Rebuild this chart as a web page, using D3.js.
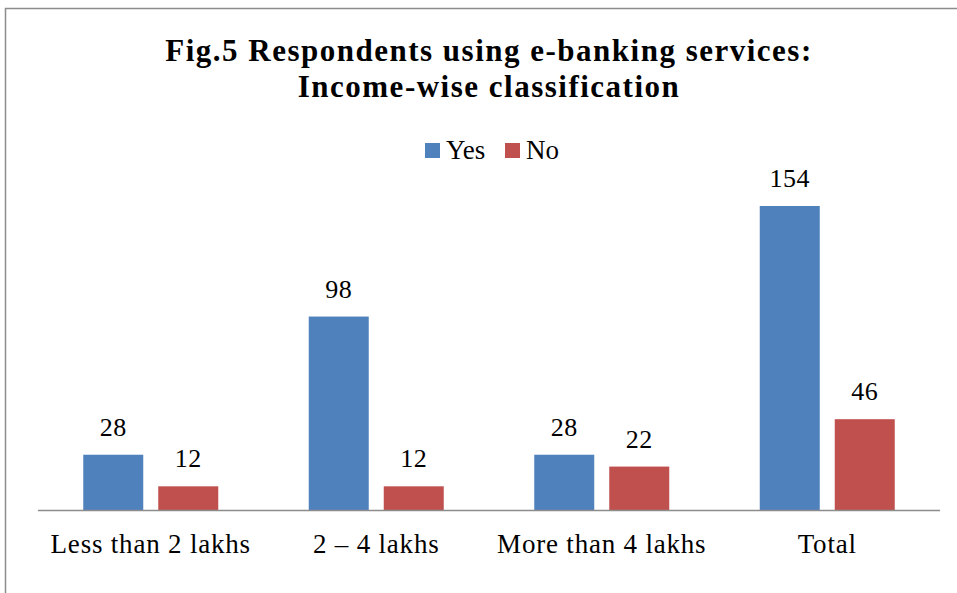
<!DOCTYPE html>
<head>
  <meta charset="utf-8">
  <script src="https://d3js.org/d3.v7.min.js"></script>
  <style>
body { margin: 0; background: #fff; }
text { font-family: "Liberation Serif", "DejaVu Serif", serif; fill: #000; }
.title { font-weight: 700; font-size: 31px; letter-spacing: 1.5px; }
.cat { font-size: 27px; letter-spacing: 0.8px; }
.val { font-size: 26px; letter-spacing: 0.5px; }
.leg { font-size: 27px; }
  </style>
</head>
<body>
  <script>
    var categories = ["Less than 2 lakhs", "2 \u2013 4 lakhs", "More than 4 lakhs", "Total"];
    var seriesNames = ["Yes", "No"];
    var yesValues = [28, 98, 28, 154];
    var noValues = [12, 12, 22, 46];
    var titleLines = ["Fig.5 Respondents using e-banking services:", "Income-wise classification"];

    var width = 957, height = 593;
    var color = d3.scaleOrdinal().domain(seriesNames).range(["#4F81BD", "#C0504D"]);

    var svg = d3.select("body").append("svg")
      .attr("width", width)
      .attr("height", height);

    // outer frame (cropped at right/bottom like the reference)
    svg.append("path")
      .attr("d", "M5.5," + height + "V8.5H" + width)
      .attr("fill", "none")
      .attr("stroke", "#8c8c8c")
      .attr("stroke-width", 1.5);

    var x0 = d3.scaleBand().domain(categories).range([38, 940]);
    var x1 = d3.scaleBand().domain(seriesNames).range([0, 135]).paddingInner(0.2);
    var y = d3.scaleLinear().domain([0, 154]).range([510, 206]);

    var data = categories.map(function(c, i) {
      return {cat: c, vals: [{s: "Yes", v: yesValues[i]}, {s: "No", v: noValues[i]}]};
    });

    var groups = svg.selectAll(".grp")
      .data(data)
      .enter().append("g")
      .attr("class", "grp")
      .attr("transform", function(d) {
        return "translate(" + (x0(d.cat) + (x0.bandwidth() - 135) / 2) + ",0)";
      });

    groups.selectAll("rect")
      .data(function(d) { return d.vals; })
      .enter().append("rect")
      .attr("x", function(d) { return x1(d.s); })
      .attr("width", x1.bandwidth())
      .attr("y", function(d) { return y(d.v); })
      .attr("height", function(d) { return y(0) - y(d.v); })
      .attr("fill", function(d) { return color(d.s); });

    groups.selectAll(".val")
      .data(function(d) { return d.vals; })
      .enter().append("text")
      .attr("class", "val")
      .attr("x", function(d) { return x1(d.s) + x1.bandwidth() / 2; })
      .attr("y", function(d) { return y(d.v) - 19; })
      .attr("text-anchor", "middle")
      .text(function(d) { return d.v; });

    // axis line
    svg.append("line")
      .attr("x1", 38).attr("x2", 940)
      .attr("y1", y(0) + 0.5).attr("y2", y(0) + 0.5)
      .attr("stroke", "#8c8c8c")
      .attr("stroke-width", 1.5);

    svg.selectAll(".cat")
      .data(categories)
      .enter().append("text")
      .attr("class", "cat")
      .attr("x", function(d) { return x0(d) + x0.bandwidth() / 2; })
      .attr("y", 553)
      .attr("text-anchor", "middle")
      .text(function(d) { return d; });

    svg.selectAll(".title")
      .data(titleLines)
      .enter().append("text")
      .attr("class", "title")
      .attr("x", 489)
      .attr("y", function(d, i) { return 61 + i * 36; })
      .attr("text-anchor", "middle")
      .text(function(d) { return d; });

    // legend
    var legend = svg.append("g");
    var lx = [425, 505];
    seriesNames.forEach(function(s, i) {
      legend.append("rect")
        .attr("x", lx[i]).attr("y", 143)
        .attr("width", 15).attr("height", 15)
        .attr("fill", color(s));
      legend.append("text")
        .attr("class", "leg")
        .attr("x", lx[i] + 21).attr("y", 159)
        .text(s);
    });
  </script>
</body>
